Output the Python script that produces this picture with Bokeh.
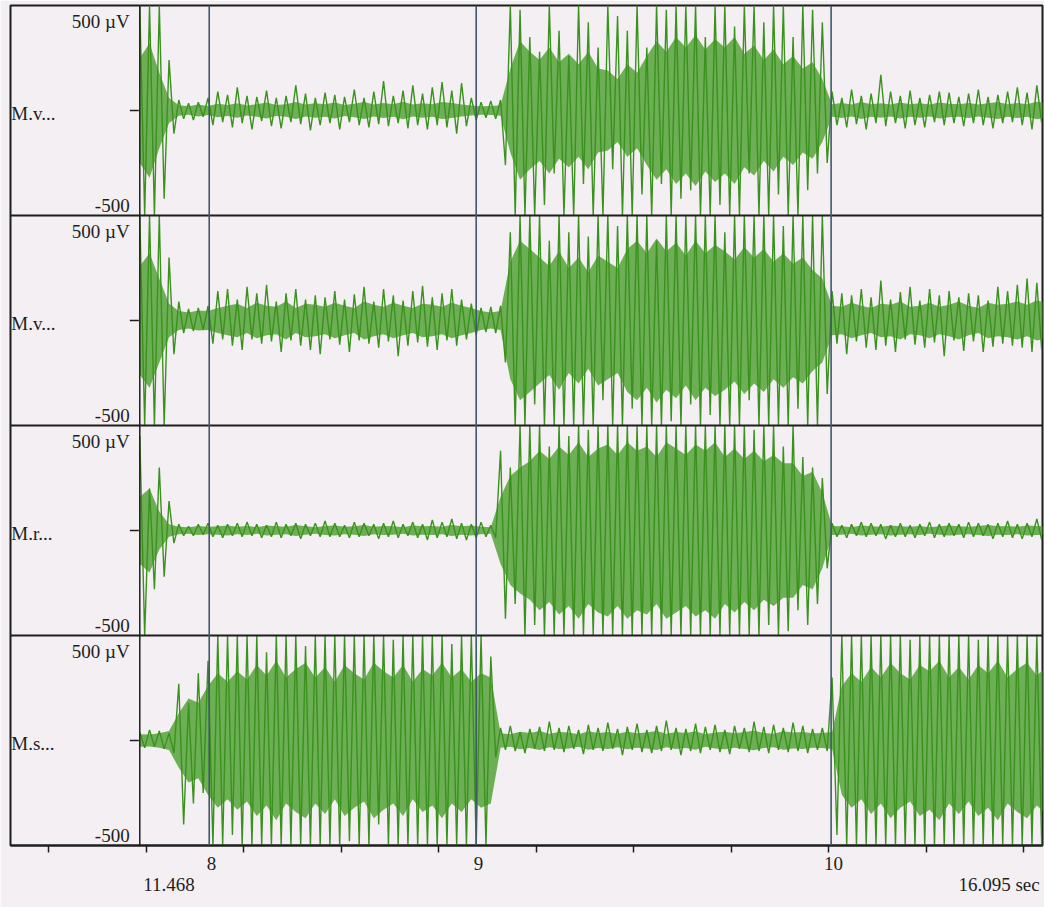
import numpy as np
from bokeh.plotting import figure
from bokeh.models import Range1d, LinearAxis, FixedTicker, Span, ColumnDataSource
from bokeh.embed import file_html
from bokeh.resources import INLINE
from bokeh.core.properties import value

# ---------------- data ----------------
T_START = 11.468          # s, first sample shown
T_END = 16.095            # s, last sample shown
DT_PEAK = 0.025           # s between successive peak readings
DT_CORE = 0.05            # s between successive core-envelope readings
Y_LIMIT = 500             # µV, half range of every channel

CHANNEL_NAMES = ["M.v...", "M.v...", "M.r...", "M.s..."]
TOP_LABEL = "500 µV"
BOTTOM_LABEL = "-500"

MARKER_TIMES = [11.824, 13.193, 15.013]
MARKER_LABELS = ["8", "9", "10"]
AXIS_TICKS = [11.0, 11.5, 12.0, 12.5, 13.0, 13.5, 14.0, 14.5, 15.0, 15.5, 16.0]
START_LABEL = "11.468"
END_LABEL = "16.095 sec"

# signed peak values (µV) every DT_PEAK seconds
CH1_PEAKS = [620, -650, 580, -600, 560, -420, 240, -110, 50, -40,
             35, -45, 40, -30, 60, -70, 90, -55, 75, -80,
             110, -60, 70, -90, 65, -50, 95, -75, 60, -85,
             70, -55, 120, -65, 80, -95, 60, -70, 85, -60,
             75, -90, 65, -55, 100, -70, 60, -80, 90, -65,
             140, -75, 70, -60, 95, -85, 120, -70, 80, -90,
             110, -70, 135, -80, 95, -110, 130, -75, 60, -45,
             40, -35, 45, -40, 50, -260, 560, -600, 480, -520,
             350, -600, 280, -450, 620, -300, 380, -620, 260, -520,
             600, -350, 420, -580, 300, -640, 550, -280, 450, -600,
             380, -520, 620, -400, 300, -560, 650, -350, 480, -620,
             560, -420, 640, -380, 520, -600, 350, -650, 600, -450,
             620, -520, 400, -640, 580, -300, 660, -580, 420, -600,
             600, -400, 520, -620, 350, -560, 640, -380, 480, -300,
             420, -250, 90, -70, 60, -80, 100, -65, 70, -90,
             80, -60, 170, -75, 90, -60, 70, -85, 95, -70,
             60, -80, 75, -55, 90, -70, 85, -60, 65, -75,
             80, -60, 100, -70, 65, -85, 75, -60, 90, -55,
             110, -70, 85, -90, 120, -60]

CH2_PEAKS = [620, -600, 580, -640, 560, -520, 300, -160, 90, -60,
             55, -50, 60, -45, 70, -110, 140, -90, 150, -120,
             100, -140, 160, -90, 130, -110, 170, -100, 90, -150,
             130, -95, 150, -120, 100, -140, 120, -160, 110, -90,
             140, -115, 100, -150, 125, -95, 160, -110, 90, -130,
             150, -100, 120, -170, 95, -120, 140, -105, 165, -125,
             110, -140, 130, -95, 150, -120, 100, -90, 80, -70,
             60, -55, 65, -60, 70, -200, 420, -640, 600, -550,
             620, -400, 560, -650, 380, -600, 640, -500, 420, -620,
             580, -650, 400, -560, 650, -380, 600, -620, 450, -560,
             640, -420, 580, -650, 500, -600, 380, -640, 620, -480,
             600, -560, 660, -400, 520, -640, 600, -450, 650, -580,
             420, -620, 640, -520, 600, -380, 560, -650, 620, -500,
             580, -640, 450, -600, 650, -420, 620, -560, 500, -620,
             600, -350, 140, -110, 130, -160, 120, -100, 150, -130,
             110, -140, 190, -120, 100, -150, 135, -90, 160, -115,
             95, -130, 150, -105, 120, -170, 140, -95, 110, -145,
             130, -100, 120, -150, 95, -125, 160, -110, 140, -120,
             170, -130, 200, -150, 180, -140]

CH3_PEAKS = [450, -560, 200, -280, 300, -220, 140, -60, 30, -25,
             20, -25, 30, -20, 35, -30, 25, -35, 30, -25,
             35, -30, 40, -25, 30, -35, 25, -30, 40, -35,
             30, -25, 35, -40, 30, -25, 35, -30, 45, -30,
             35, -30, 25, -35, 40, -30, 35, -25, 30, -40,
             35, -30, 45, -35, 30, -25, 40, -35, 30, -45,
             50, -35, 40, -30, 55, -40, 35, -45, 30, -35,
             40, -30, 25, -35, 380, -420, 300, -350, 520, -620,
             620, -450, 580, -650, 400, -600, 640, -520, 450, -620,
             600, -640, 480, -580, 650, -600, 520, -650, 620, -560,
             650, -600, 620, -650, 580, -640, 660, -620, 600, -650,
             640, -600, 660, -650, 620, -580, 650, -640, 600, -620,
             580, -650, 620, -540, 600, -650, 480, -560, 620, -450,
             520, -600, 400, -480, 560, -380, 350, -450, 300, -350,
             250, -180, 35, -30, 25, -35, 30, -25, 40, -30,
             35, -25, 30, -40, 25, -30, 35, -30, 25, -35,
             30, -25, 40, -35, 30, -30, 35, -25, 30, -35,
             40, -30, 35, -25, 30, -40, 35, -30, 45, -35,
             30, -40, 35, -30, 55, -45]

CH4_PEAKS = [40, -35, 50, -30, 45, -40, 35, -60, 270, -400,
             180, -300, 320, -250, 380, -640, 620, -580, 650, -450,
             600, -640, 520, -600, 650, -580, 420, -650, 620, -500,
             640, -620, 580, -650, 450, -600, 660, -540, 620, -650,
             500, -620, 640, -480, 600, -650, 580, -620, 650, -400,
             620, -600, 480, -650, 640, -560, 600, -640, 520, -620,
             650, -500, 600, -620, 460, -650, 620, -580, 640, -600,
             520, -620, 400, -80, 60, -45, 70, -50, 40, -60,
             55, -40, 65, -50, 90, -45, 60, -55, 70, -40,
             50, -65, 75, -45, 60, -50, 85, -40, 55, -70,
             65, -45, 80, -55, 50, -60, 70, -50, 95, -45,
             60, -70, 55, -50, 80, -60, 65, -45, 75, -55,
             50, -65, 70, -40, 60, -55, 90, -50, 65, -60,
             75, -45, 60, -55, 85, -50, 70, -60, 55, -45,
             60, -50, 300, -450, 620, -650, 580, -500, 640, -620,
             600, -650, 520, -620, 650, -580, 600, -640, 480, -620,
             650, -600, 620, -520, 640, -650, 500, -620, 600, -580,
             650, -620, 480, -640, 600, -550, 620, -650, 520, -600,
             640, -580, 600, -650, 500, -620]

# half-width (µV) of the dense core of each trace, every DT_CORE seconds
CH1_CORE = [250, 320, 180, 60, 25, 20, 28, 22, 32, 26,
            34, 24, 30, 38, 26, 30, 40, 28, 34, 30,
            38, 26, 32, 40, 28, 36, 30, 42, 28, 34,
            30, 40, 36, 28, 24, 20, 22, 25, 200, 330,
            280, 240, 300, 230, 270, 220, 280, 200, 190, 150,
            220, 180, 260, 330, 280, 350, 300, 360, 290, 340,
            300, 350, 270, 310, 240, 290, 220, 260, 200, 230,
            150, 30, 36, 28, 40, 30, 34, 28, 38, 30,
            34, 28, 38, 32, 30, 36, 28, 34, 40, 30,
            36, 30, 42, 34]

CH2_CORE = [260, 320, 200, 80, 45, 38, 48, 45, 60, 70,
            80, 60, 85, 70, 65, 90, 60, 80, 75, 65,
            85, 70, 60, 90, 75, 65, 85, 70, 60, 80,
            75, 65, 85, 70, 60, 45, 38, 45, 280, 380,
            340, 300, 260, 330, 250, 300, 230, 310, 280, 250,
            340, 380, 320, 390, 330, 370, 310, 380, 320, 360,
            330, 290, 350, 300, 340, 280, 320, 270, 300, 240,
            200, 70, 65, 85, 70, 60, 80, 75, 90, 65,
            70, 85, 65, 75, 90, 70, 60, 85, 75, 80,
            90, 75, 95, 85]

CH3_CORE = [160, 200, 90, 30, 18, 16, 22, 18, 20, 24,
            18, 22, 16, 24, 20, 18, 26, 20, 16, 22,
            24, 18, 20, 26, 18, 22, 20, 16, 24, 20,
            22, 18, 26, 20, 24, 18, 16, 160, 260, 300,
            330, 380, 340, 400, 360, 420, 350, 390, 410, 360,
            420, 380, 400, 350, 420, 390, 360, 410, 380, 420,
            350, 390, 340, 380, 330, 360, 320, 320, 260, 280,
            180, 22, 20, 16, 24, 20, 18, 24, 20, 18,
            22, 16, 20, 24, 20, 18, 22, 26, 20, 22,
            18, 24, 22, 20]

CH4_CORE = [30, 28, 35, 45, 130, 200, 180, 260, 320, 280,
            330, 290, 360, 310, 380, 300, 340, 370, 300, 350,
            280, 360, 320, 290, 370, 330, 300, 360, 280, 340,
            310, 370, 300, 340, 280, 320, 300, 35, 30, 42,
            36, 45, 32, 40, 38, 30, 44, 36, 40, 32,
            42, 35, 38, 45, 32, 40, 36, 44, 30, 38,
            42, 34, 40, 46, 36, 32, 44, 38, 40, 34,
            36, 40, 260, 320, 280, 350, 300, 370, 320, 290,
            360, 330, 380, 300, 350, 290, 360, 320, 380, 300,
            340, 370, 310, 350]

PEAKS = [CH1_PEAKS, CH2_PEAKS, CH3_PEAKS, CH4_PEAKS]
CORES = [CH1_CORE, CH2_CORE, CH3_CORE, CH4_CORE]

# ---------------- styling ----------------
BG = "#f4eff3"
GREEN = "#3a911d"
CORE_GREEN = "#4b9f2c"
INK = "#1e1e1e"
MARKER_COLOR = "#40586a"
FONT = "Liberation Serif"
FSIZE = "19px"

PANEL = 2 * Y_LIMIT
X_LEFT = 10.805
X_RIGHT = 16.097
n_ch = len(PEAKS)

p = figure(width=1044, height=907,
           x_range=Range1d(X_LEFT, X_RIGHT),
           y_range=Range1d(Y_LIMIT - n_ch * PANEL, Y_LIMIT),
           x_axis_type=None, y_axis_type=None,
           output_backend="svg", toolbar_location=None,
           min_border_left=10, min_border_right=2, min_border_top=5,
           min_border_bottom=62)
p.background_fill_color = BG
p.border_fill_color = BG
p.outline_line_color = INK
p.outline_line_width = 2
p.grid.visible = False

for k in range(n_ch):
    off = -k * PANEL
    core = np.array(CORES[k], dtype=float)
    tc = T_START + DT_CORE * np.arange(len(core))
    p.varea(x=tc, y1=off - np.minimum(core, Y_LIMIT), y2=off + np.minimum(core, Y_LIMIT),
            fill_color=CORE_GREEN, fill_alpha=0.8)
    pk = np.array(PEAKS[k], dtype=float)
    tp = T_START + DT_PEAK * np.arange(len(pk))
    p.line(x=tp, y=off + np.clip(pk, -Y_LIMIT, Y_LIMIT), line_color=GREEN, line_width=1.4)

# panel separators, divider, markers
for k in range(1, n_ch):
    p.add_layout(Span(location=Y_LIMIT - k * PANEL, dimension="width",
                      line_color=INK, line_width=2))
p.add_layout(Span(location=T_START, dimension="height", line_color=INK, line_width=1.5))
for t in MARKER_TIMES:
    p.add_layout(Span(location=t, dimension="height", line_color=MARKER_COLOR, line_width=1.6))

# zero tick dashes
offs = [-k * PANEL for k in range(n_ch)]
p.scatter(x=[T_START - 0.028] * n_ch, y=offs, marker="dash", size=9,
          line_color=INK, line_width=1.5)

# channel texts
lab_src = ColumnDataSource(dict(
    x=[T_START - 0.052] * n_ch, ytop=[o + Y_LIMIT - 75 for o in offs],
    ybot=[o - Y_LIMIT + 50 for o in offs],
    top=[TOP_LABEL] * n_ch, bot=[BOTTOM_LABEL] * n_ch))
p.text(x="x", y="ytop", text="top", source=lab_src, text_align="right",
       text_baseline="middle", text_font=value(FONT), text_font_size=FSIZE, text_color=INK)
p.text(x="x", y="ybot", text="bot", source=lab_src, text_align="right",
       text_baseline="middle", text_font=value(FONT), text_font_size=FSIZE, text_color=INK)
p.text(x=[X_LEFT + 0.004] * n_ch, y=[o - 15 for o in offs], text=CHANNEL_NAMES,
       text_align="left", text_baseline="middle", text_font=value(FONT),
       text_font_size=FSIZE, text_color=INK)

# time axis with tick marks only
ax = LinearAxis(ticker=FixedTicker(ticks=AXIS_TICKS), major_tick_out=7, major_tick_in=0,
                minor_tick_out=0, minor_tick_in=0, axis_line_color=INK, axis_line_width=2,
                major_tick_line_color=INK, major_tick_line_width=1.5,
                major_label_text_font_size="1px", major_label_text_alpha=0,
                major_label_standoff=0)
p.add_layout(ax, "below")

# marker numbers under the axis
marker_pos = [round(t + 0.012, 3) for t in MARKER_TIMES]
ax2 = LinearAxis(ticker=FixedTicker(ticks=marker_pos),
                 major_label_overrides={t: s for t, s in zip(marker_pos, MARKER_LABELS)},
                 major_tick_out=0, major_tick_in=0, minor_tick_out=0, minor_tick_in=0,
                 axis_line_color=None, major_tick_line_color=None, minor_tick_line_color=None,
                 major_label_standoff=4, major_label_text_font=FONT,
                 major_label_text_font_size=FSIZE, major_label_text_color=INK)
p.add_layout(ax2, "below")

# start / end times (label centres placed so the texts start / end at the data edges)
range_pos = [round(T_START + 0.15, 3), round(T_END - 0.221, 3)]
ax3 = LinearAxis(ticker=FixedTicker(ticks=range_pos),
                 major_label_overrides={range_pos[0]: START_LABEL, range_pos[1]: END_LABEL},
                 major_tick_out=0, major_tick_in=0, minor_tick_out=0, minor_tick_in=0,
                 axis_line_color=None, major_tick_line_color=None, minor_tick_line_color=None,
                 major_label_standoff=1, major_label_text_font=FONT,
                 major_label_text_font_size=FSIZE, major_label_text_color=INK)
p.add_layout(ax3, "below")

open("out.html", "w").write(file_html(p, INLINE))
